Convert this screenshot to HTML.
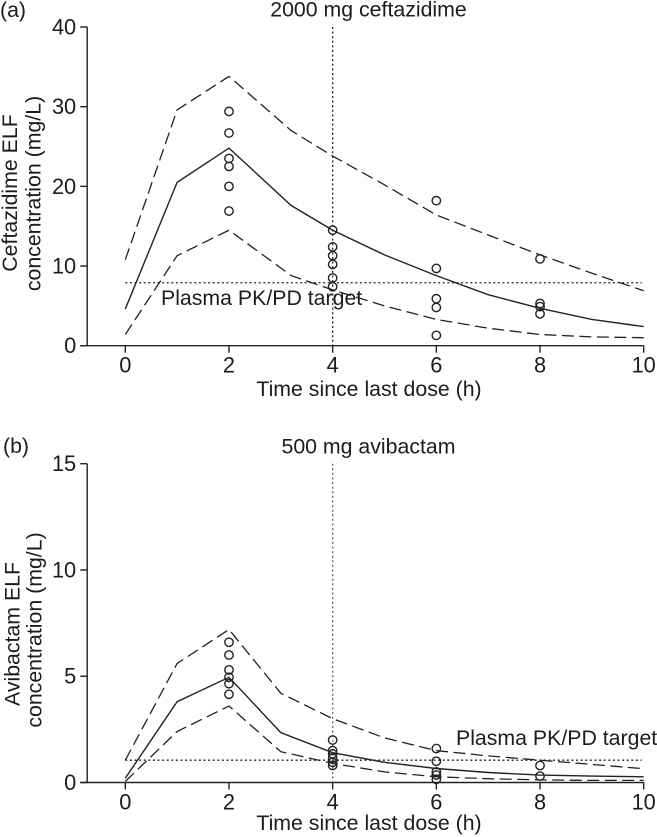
<!DOCTYPE html>
<html>
<head>
<meta charset="utf-8">
<style>
html,body{margin:0;padding:0;background:#fff;width:657px;height:837px;overflow:hidden}
svg{display:block;filter:blur(0.35px)}
text{font-family:"Liberation Sans",sans-serif;fill:#1c1c1c;font-size:21.3px}
</style>
</head>
<body>
<svg id="chart" width="657" height="837" viewBox="0 0 657 837" xmlns="http://www.w3.org/2000/svg"></svg>
<script>
// Shared axis ticks
const xTicks = [0, 2, 4, 6, 8, 10];

// Panel (a): ceftazidime
const cefTicks = [0, 10, 20, 30, 40];
const cefTimes = [0, 1, 2, 3.2, 4, 5, 6, 7, 8, 9, 10];
const cefMedian = [4.6, 20.5, 24.8, 17.6, 14.5, 11.4, 8.8, 6.4, 4.7, 3.3, 2.4];
const cefUpper = [10.8, 29.6, 33.8, 27, 23.8, 20.2, 16.4, 13.9, 11.4, 9.1, 6.9];
const cefLower = [1.4, 11.3, 14.5, 8.8, 7.0, 5.0, 3.3, 2.2, 1.4, 1.1, 1.0];
const cefObsTimes = [2, 2, 2, 2, 2, 2, 4, 4, 4, 4, 4, 4, 6, 6, 6, 6, 6, 8, 8, 8, 8];
const cefObsValues = [29.4, 26.7, 23.5, 22.5, 20, 16.9, 14.5, 12.4, 11.3, 10.2, 8.5, 7.4, 18.2, 9.7, 5.9, 4.8, 1.3, 10.9, 5.3, 4.9, 4.0];
const cefTarget = 7.9;

// Panel (b): avibactam
const aviTicks = [0, 5, 10, 15];
const aviTimes = [0, 1, 2, 3, 4, 5, 6, 7, 8, 9, 10];
const aviMedian = [0.2, 3.8, 4.95, 2.35, 1.4, 0.95, 0.66, 0.47, 0.35, 0.3, 0.27];
const aviUpper = [1.05, 5.6, 7.2, 4.2, 3.0, 2.1, 1.5, 1.25, 1.05, 0.85, 0.65];
const aviLower = [0.05, 2.4, 3.6, 1.45, 0.9, 0.5, 0.27, 0.18, 0.12, 0.1, 0.1];
const aviObsTimes = [2, 2, 2, 2, 2, 2, 4, 4, 4, 4, 4, 4, 6, 6, 6, 6, 6, 8, 8];
const aviObsValues = [6.6, 6.0, 5.3, 4.95, 4.65, 4.15, 2.0, 1.5, 1.35, 1.15, 0.95, 0.8, 1.6, 1.0, 0.5, 0.35, 0.15, 0.8, 0.3];
const aviTarget = 1.05;

const NS = 'http://www.w3.org/2000/svg';
const root = document.getElementById('chart');
const INK = '#222';

function make(tag, attrs, parent, txt) {
  const el = document.createElementNS(NS, tag);
  for (const k in attrs) el.setAttribute(k, attrs[k]);
  if (txt !== undefined) el.textContent = txt;
  parent.appendChild(el);
  return el;
}
function xScale(v) { return 125.3 + v * 51.84; }

function drawPanel(cfg) {
  const g = make('g', {}, root);
  
  
  const yScale = v => cfg.y0 - v * (cfg.y0 - cfg.yTop) / cfg.yMax;
  const axisX = 87.2;

  // axes
  const yAxis = make('line', {x1: axisX, x2: axisX, y1: yScale(cfg.yMax), y2: cfg.y0, stroke: INK, 'stroke-width': 1.4}, g);
  
  
  const xAxis = make('line', {x1: axisX - 7, x2: xScale(10), y1: cfg.y0, y2: cfg.y0, stroke: INK, 'stroke-width': 1.4}, g);
  
  

  cfg.yTicks.forEach(t => {
    const y = yScale(t);
    const tick = make('line', {x1: axisX - 7, x2: axisX, y1: y, y2: y, stroke: INK, 'stroke-width': 1.4}, g);
    
    
    const label = make('text', {x: axisX - 11, y: y + 7.5, 'text-anchor': 'end', style: 'font-size:21.8px'}, g, String(t));
    
    
  });
  xTicks.forEach(t => {
    const x = xScale(t);
    const tick = make('line', {x1: x, x2: x, y1: cfg.y0, y2: cfg.y0 + 7, stroke: INK, 'stroke-width': 1.4}, g);
    
    
    const label = make('text', {x: x, y: cfg.y0 + 27, 'text-anchor': 'middle', style: 'font-size:21.8px'}, g, String(t));
    
    
  });

  // reference lines
  const vLine = make('line', {x1: xScale(4), x2: xScale(4), y1: yScale(cfg.yMax), y2: cfg.y0, stroke: cfg.vColor, 'stroke-width': 1.3, 'stroke-dasharray': '2 2.6'}, g);
  
  
  const tLine = make('line', {x1: xScale(0), x2: xScale(10) - 2, y1: yScale(cfg.target), y2: yScale(cfg.target), stroke: INK, 'stroke-width': 1.3, 'stroke-dasharray': '2 2.6'}, g);
  
  

  // series
  const toPts = (ts, vs) => ts.map((t, i) => xScale(t).toFixed(1) + ',' + yScale(vs[i]).toFixed(1)).join(' ');
  const upper = make('polyline', {points: toPts(cfg.times, cfg.upper), fill: 'none', stroke: INK, 'stroke-width': 1.3, 'stroke-dasharray': '12 5.5'}, g);
  
  
  const lower = make('polyline', {points: toPts(cfg.times, cfg.lower), fill: 'none', stroke: INK, 'stroke-width': 1.3, 'stroke-dasharray': '12 5.5'}, g);
  
  
  const median = make('polyline', {points: toPts(cfg.times, cfg.median), fill: 'none', stroke: INK, 'stroke-width': 1.4}, g);
  
  

  // observations
  cfg.obsT.forEach((t, i) => {
    const c = make('circle', {cx: xScale(t), cy: yScale(cfg.obsV[i]), r: 4.2, fill: 'none', stroke: INK, 'stroke-width': 1.4}, g);
    
    
  });

  // labels
  const panelLabel = make('text', {x: cfg.panelX, y: cfg.panelY}, g, cfg.panel);
  
  
  const title = make('text', {x: 368.5, y: cfg.titleY, 'text-anchor': 'middle'}, g, cfg.title);
  
  
  const xTitle = make('text', {x: 369, y: cfg.xTitleY, 'text-anchor': 'middle'}, g, 'Time since last dose (h)');
  
  
  const yTitle1 = make('text', {transform: 'translate(' + cfg.y1X + ',' + cfg.y1Mid + ') rotate(-90)', 'text-anchor': 'middle'}, g, cfg.yTitle1);
  
  
  const yTitle2 = make('text', {transform: 'translate(' + cfg.y2X + ',' + cfg.y2Mid + ') rotate(-90)', 'text-anchor': 'middle'}, g, cfg.yTitle2);
  
  
  const targetLabel = make('text', {x: cfg.tlX, y: cfg.tlY}, g, 'Plasma PK/PD target');
  
  
}

drawPanel({key: 'ceftazidime', panel: '(a)', panelX: 0, panelY: 17, y0: 345.7, yTop: 27, yMax: 40, yTicks: cefTicks,
  times: cefTimes, median: cefMedian, upper: cefUpper, lower: cefLower, obsT: cefObsTimes, obsV: cefObsValues,
  target: cefTarget, vColor: '#222', title: '2000 mg ceftazidime', titleY: 16.5, xTitleY: 396,
  yTitle1: 'Ceftazidime ELF', yTitle2: 'concentration (mg/L)', y1X: 17, y1Mid: 193, y2X: 40.5, y2Mid: 193.5, tlX: 161, tlY: 305});
drawPanel({key: 'avibactam', panel: '(b)', panelX: 3, panelY: 453, y0: 782.5, yTop: 463.7, yMax: 15, yTicks: aviTicks,
  times: aviTimes, median: aviMedian, upper: aviUpper, lower: aviLower, obsT: aviObsTimes, obsV: aviObsValues,
  target: aviTarget, vColor: '#666', title: '500 mg avibactam', titleY: 453.5, xTitleY: 830,
  yTitle1: 'Avibactam ELF', yTitle2: 'concentration (mg/L)', y1X: 19.5, y1Mid: 634, y2X: 41.5, y2Mid: 630, tlX: 456, tlY: 745});
</script>
</body>
</html>
